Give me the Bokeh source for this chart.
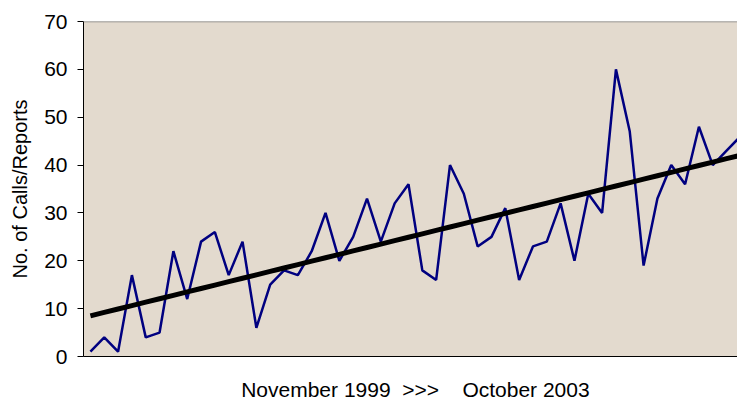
import numpy as np
from bokeh.plotting import figure
from bokeh.layouts import column
from bokeh.models import Range1d, Span, FixedTicker
from bokeh.core.properties import value
from bokeh.embed import file_html
from bokeh.resources import INLINE

# Monthly number of calls/reports, November 1999 through October 2003
calls = [1, 4, 1, 17, 4, 5, 22, 12, 24, 26, 17, 24,
         6, 15, 18, 17, 22, 30, 20, 25, 33, 24, 32, 36,
         18, 16, 40, 34, 23, 25, 31, 16, 23, 24, 32, 20,
         34, 30, 60, 47, 19, 33, 40, 36, 48, 40, 43, 46]
months = list(range(len(calls)))

y_ticks = [0, 10, 20, 30, 40, 50, 60, 70]
y_label = "No. of Calls/Reports"
NBSP = "\u00a0"
x_label = "November 1999" + NBSP * 2 + ">>>" + NBSP * 4 + "October 2003"

# Least-squares linear trend through the monthly counts
slope, intercept = np.polyfit(months, calls, 1)
trend = [intercept + slope * m for m in months]

FONT = "Liberation Sans"
x_range = Range1d(-0.5, 46.79)

p = figure(width=737, height=368, output_backend="svg", toolbar_location=None,
           x_range=x_range, y_range=Range1d(0, 70),
           min_border_left=83, min_border_right=0,
           min_border_top=21, min_border_bottom=12)

p.background_fill_color = "#E3DACE"
p.border_fill_color = "white"
p.outline_line_color = None
p.grid.visible = False

# y axis
p.yaxis.ticker = FixedTicker(ticks=y_ticks)
p.yaxis.minor_tick_line_color = None
p.yaxis.major_tick_in = 0
p.yaxis.major_tick_out = 6
p.yaxis.axis_line_color = "black"
p.yaxis.major_tick_line_color = "black"
p.yaxis.major_label_text_font = FONT
p.yaxis.major_label_text_font_size = "21px"
p.yaxis.major_label_text_color = "black"
p.yaxis.major_label_standoff = 10
p.yaxis.axis_label = y_label
p.yaxis.axis_label_text_font = FONT
p.yaxis.axis_label_text_font_size = "20px"
p.yaxis.axis_label_text_font_style = "normal"
p.yaxis.axis_label_text_color = "black"
p.yaxis.axis_label_standoff = 10

# x axis: plain line, no ticks
p.xaxis.ticker = FixedTicker(ticks=[])
p.xaxis.minor_tick_line_color = None
p.xaxis.major_tick_line_color = None
p.xaxis.major_tick_in = 0
p.xaxis.major_tick_out = 0
p.xaxis.axis_line_color = "black"

# top edge of the plot area
p.add_layout(Span(location=70, dimension="width", line_color="#7F7F7F", line_width=1.5))

p.line(months, calls, line_color="#000080", line_width=2.5)
p.line(months, trend, line_color="black", line_width=5)

# strip beneath the chart carrying the period caption, on the same x scale
cap = figure(width=737, height=33, output_backend="svg", toolbar_location=None,
             x_range=x_range, y_range=Range1d(0, 33),
             min_border_left=83, min_border_right=0,
             min_border_top=0, min_border_bottom=0,
             x_axis_location=None, y_axis_location=None)
cap.background_fill_color = "white"
cap.border_fill_color = "white"
cap.outline_line_color = None
cap.grid.visible = False

mid_month = (months[0] + months[-1]) / 2
cap.text(x=[mid_month], y=[12.5], text=[x_label], text_align="center",
         text_baseline="middle", text_font=value(FONT),
         text_font_size=value("21px"), text_color="black")

layout = column(p, cap, spacing=0)
open("out.html", "w").write(file_html(layout, INLINE))
